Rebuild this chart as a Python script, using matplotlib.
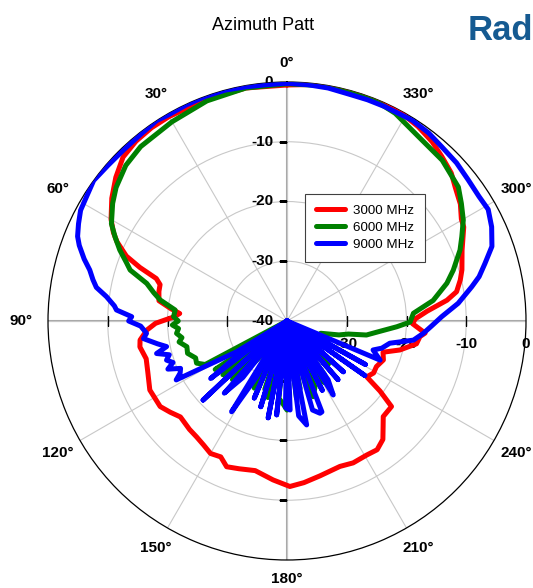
import numpy as np
import matplotlib
matplotlib.use("Agg")
import matplotlib.pyplot as plt
from matplotlib.transforms import ScaledTranslation

plt.rcParams['font.family'] = ['Liberation Sans', 'DejaVu Sans']

# azimuth (deg, counter-clockwise from top) and level (dB)
red_deg = [0, 10, 20, 30, 35, 40, 45, 50, 55, 60, 63, 65, 68, 70, 72, 74, 77, 81, 84, 86, 88, 89.5, 91,
           93.7, 97.4, 100, 105, 110, 116.7, 124, 128, 132, 138, 142, 146, 150, 154, 157.5, 162, 168, 175,
           181, 186, 192, 200, 205, 210.7, 215, 219, 222.3, 225.2, 230.7, 233, 235, 239, 243, 248, 252,
           255.6, 260, 263.3, 265, 268.8, 271, 274, 277.4, 279.8, 283.3, 286.3, 292, 298, 300.3, 304,
           308.6, 312, 316.7, 321, 326, 331, 336, 342, 348, 354, 360]
red_db = [-0.5, -0.4, -0.5, -0.5, -0.5, -0.7, -1.2, -2.6, -4.2, -6.0, -7.4, -8.6, -11.0, -13.8, -17.0,
          -17.9, -18.0, -18.3, -20.5, -22.0, -21.0, -19.6, -18.0, -16.5, -15.2, -15.0, -15.6, -15.2,
          -14.3, -14.4, -15.2, -16.0, -15.6, -15.4, -15.0, -14.4, -14.7, -13.6, -14.0, -14.4, -13.3,
          -12.3, -12.8, -13.5, -14.1, -13.8, -13.9, -13.7, -14.5, -16.1, -17.3, -17.4, -20.5, -23.7,
          -23.1, -23.2, -22.6, -23.1, -20.5, -18.0, -17.6, -16.8, -19.0, -18.5, -16.5, -13.0, -11.2,
          -10.2, -9.5, -8.4, -6.5, -6.2, -5.0, -4.0, -3.0, -2.2, -1.4, -0.75, -0.3, -0.1, 0.0, 0.0,
          -0.2, -0.5]

green_deg = [0, 10, 20, 30, 40, 46, 52, 56, 61, 64, 67, 70, 72, 75, 78, 80.6, 84.4, 87.8, 90, 92, 94,
             96.4, 99, 101, 104.4, 108, 112, 115, 118, 121, 124, 127, 130, 133, 137, 140, 143, 146, 150,
             154, 158, 162, 166, 170, 174, 177, 180, 183, 187, 191, 195, 199, 203, 207, 211, 215, 219,
             224, 228, 232, 237, 242, 247, 250, 255, 258, 260, 263, 267, 269.5, 273.5, 278, 283.3, 287,
             292.3, 295.8, 299.8, 304, 308, 316, 324.5, 332.5, 338, 344, 352, 360]
green_db = [-0.3, -0.4, -0.8, -1.5, -1.9, -2.5, -3.7, -4.8, -6.4, -8.0, -9.6, -11.4, -12.4, -15.7, -17.2,
            -18.5, -21.2, -21.0, -21.8, -20.8, -21.8, -21.4, -22.2, -21.6, -22.7, -22.5, -23.5, -23.3,
            -24.5, -40, -25.5, -28.0, -26.0, -40, -26.6, -28.0, -32.5, -40, -29.0, -27.5, -40, -28.0,
            -26.8, -40, -27.0, -26.2, -25.1, -40, -27.0, -28.5, -40, -26.6, -28.0, -40, -28.0, -29.0,
            -40, -30.0, -31.0, -40, -36.0, -35.3, -33.5, -34.0, -31.0, -29.5, -26.5, -24.8, -21.6, -19.4,
            -18.8, -15.3, -12.5, -10.9, -8.7, -7.5, -6.0, -4.8, -3.6, -2.6, -2.1, -0.8, -0.3, -0.1,
            -0.2, -0.3]

blue_deg = [0, 5, 10, 15, 20, 25, 30, 33, 38, 43.7, 49, 54, 58, 61.8, 65, 68, 70, 73, 75.5, 78, 80, 82.3,
            85, 86.3, 88.4, 90, 92, 95, 97, 100, 102, 104, 106, 108, 110, 112, 114, 116, 118, 121.4, 123,
            124.5, 127, 130, 133.3, 136, 139, 142, 145, 148.6, 151.5, 154, 157, 160, 163, 166, 169, 171,
            173.7, 176, 179, 182, 184, 187, 190.7, 193, 196, 199.7, 201, 204, 207, 210, 212, 215, 218,
            221, 224, 228, 231, 235, 238, 241, 244, 247.2, 251.4, 254, 257.8, 261.4, 264.8, 268, 271.6,
            275.9, 280.5, 283, 286.2, 290, 294.7, 299, 303, 307.9, 313, 318.4, 323, 328, 335.4, 340,
            344, 350, 355, 360]
blue_db = [-0.2, -0.3, -0.2, 0.0, 0.0, -0.1, -0.2, 0.0, -0.3, -0.4, -0.3, 0.0, -0.5, -0.8, -1.5, -2.2,
           -3.0, -4.5, -5.9, -6.8, -7.6, -9.5, -11.0, -11.4, -14.0, -13.5, -15.5, -16.4, -15.8, -18.0,
           -19.4, -17.5, -19.5, -18.8, -19.7, -18.5, -20.5, -20.1, -19.0, -30.1, -40, -30.5, -24.0, -40,
           -20.7, -40, -24.0, -28.0, -40, -22.2, -29.4, -40, -26.0, -40, -25.0, -40, -23.5, -40, -24.2,
           -40, -25.5, -25.1, -40, -24.0, -22.3, -40, -24.5, -23.6, -23.7, -40, -27.0, -40, -25.4, -28.0,
           -40, -27.0, -40, -27.3, -40, -24.1, -40, -25.0, -40, -23.1, -24.8, -23.5, -22.4, -18.6, -17.1,
           -15.8, -14.1, -11.2, -8.55, -7.0, -5.5, -3.5, -2.3, -1.5, -1.7, -1.56, -1.2, -1.0, -0.6, -0.4,
           -0.56, -0.6, -0.65, -0.4, -0.3, -0.2]

series = [("3000 MHz", red_deg, red_db, "#ff0000"),
          ("6000 MHz", green_deg, green_db, "#008000"),
          ("9000 MHz", blue_deg, blue_db, "#0000ff")]

ring_vals = [-30, -20, -10]
r_labels = [-40, -30, -20, -10, 0]
ang_ticks = list(range(0, 360, 30))
ang_shown = [a for a in ang_ticks if a != 270]   # 270 falls off the cropped slide

fig = plt.figure(figsize=(5.33, 5.88), dpi=100)
ax = fig.add_axes([48 / 533, 1 - 560 / 588, 478 / 533, 478 / 588], projection="polar")
ax.set_theta_zero_location("N")
ax.set_theta_direction(1)
ax.set_ylim(-40, 0)

ax.set_rgrids(ring_vals, labels=[""] * len(ring_vals))
ax.set_thetagrids(ang_ticks, labels=[""] * len(ang_ticks))
ax.tick_params(axis="x", length=5, direction="inout", colors="black")
ax.grid(True, color="#c8c8c8", lw=0.8)
ax.spines["polar"].set_color("black")
ax.spines["polar"].set_linewidth(0.9)

# angle labels, a bit further out on the sides where the text is wide
for a in ang_shown:
    d = 258 + 8 * abs(np.sin(np.deg2rad(a)))
    ax.text(np.deg2rad(a), d / 239 * 40 - 40, f"{a}°", ha="center", va="center",
            fontsize=11, fontweight="bold", clip_on=False)

# cross axes with ticks
for a in [0, 90, 180, 270]:
    t = np.deg2rad(a)
    ax.plot([t, t], [-40, 0], color="#a8a8a8", lw=1.5, zorder=1.5)
tk = [-30, -20, -10]
ax.plot(np.zeros(3), tk, ls="none", marker=0, ms=6, mec="black", mew=1, zorder=1.6)
ax.plot(np.full(3, np.pi), tk, ls="none", marker=0, ms=6, mec="black", mew=1, zorder=1.6)
ax.plot(np.full(3, np.pi / 2), tk, ls="none", marker="|", ms=7, mec="black", mew=1, zorder=1.6)
ax.plot(np.full(3, 1.5 * np.pi), tk, ls="none", marker="|", ms=7, mec="black", mew=1, zorder=1.6)

off_left = ax.transData + ScaledTranslation(-14 / 100, 0, fig.dpi_scale_trans)
off_down = ax.transData + ScaledTranslation(0, -23 / 100, fig.dpi_scale_trans)
for v in r_labels:
    ax.text(0, v, str(v), transform=off_left, ha="right", va="center",
            fontsize=11, fontweight="bold", zorder=1.7)
    ax.text(1.5 * np.pi, v, str(v), transform=off_down, ha="center", va="center",
            fontsize=11, fontweight="bold", zorder=1.7)

for name, deg, db, col in series:
    ax.plot(np.deg2rad(deg), db, color=col, lw=3.6, label=name, zorder=3,
            solid_joinstyle="round", solid_capstyle="round")

leg = ax.legend(loc="upper left", bbox_to_anchor=(305 / 533, 1 - 194 / 588),
                bbox_transform=fig.transFigure, borderaxespad=0, fontsize=9.6,
                fancybox=False, framealpha=1, edgecolor="#404040", handlelength=2.2,
                handletextpad=0.6, labelspacing=0.35, borderpad=0.8)
leg.get_frame().set_linewidth(0.8)
leg.set_zorder(5)

fig.text(263.5 / 533, 1 - 29.5 / 588, "Azimuth Patt", ha="center", va="baseline", fontsize=13)
fig.text(468 / 533, 1 - 40 / 588, "Rad", ha="left", va="baseline", fontsize=25,
         fontweight="bold", color="#155a91")

fig.savefig("out.png", dpi=100)
